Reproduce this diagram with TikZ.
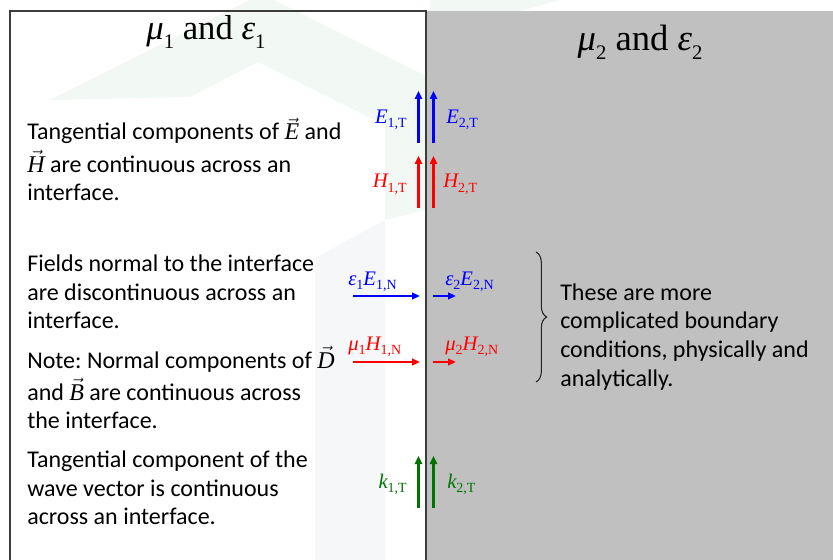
\documentclass[tikz,border=0pt]{standalone}
\usepackage{fontspec}
\setmainfont{Carlito}
\newfontfamily\tms{Liberation Serif}
\usetikzlibrary{arrows.meta,decorations.pathreplacing}
\definecolor{grayfill}{RGB}{192,192,192}
\definecolor{framec}{RGB}{60,60,60}
\definecolor{kgreen}{RGB}{0,115,0}
\definecolor{wmgreen}{RGB}{242,248,244}
\definecolor{wmgray}{RGB}{246,247,248}
\newcommand{\sbx}[1]{\raisebox{-3.5pt}{\fontsize{10.5}{11}\selectfont\upshape #1}}
\newcommand{\hsb}[1]{\raisebox{-6.5pt}{\fontsize{15.5}{16}\selectfont\upshape #1}}
\newcommand{\tvec}[1]{$\vec{\hbox{\tms\itshape #1}}$}
\frenchspacing
\begin{document}
\begin{tikzpicture}[x=0.75pt,y=-0.75pt,
  body/.style={anchor=base west,inner sep=0,font=\fontsize{18}{20}\selectfont},
  lab/.style={inner sep=0,font=\fontsize{15.5}{16}\selectfont\tms\itshape},
  head/.style={inner sep=0,anchor=base,font=\fontsize{26}{30}\selectfont\tms},
  va/.style={line width=2.3pt,-{Triangle[width=5.5pt,length=6pt]}},
  ha/.style={line width=2pt,-{Triangle[width=5pt,length=6pt]}}]
\useasboundingbox (0,0) rectangle (833,560);
\fill[white] (0,0) rectangle (833,560);
% watermark
\fill[wmgreen] (50,100) -- (262,-6) -- (426,76) -- (426,210) -- (385,220) -- (385,125) -- (258,62) -- (190,97) -- cycle;
\fill[wmgreen] (430,0) -- (560,0) -- (520,11) -- (430,11) -- cycle;
\fill[wmgray] (315,258) -- (385,220) -- (385,560) -- (315,560) -- cycle;
% regions
\fill[grayfill] (426,11) rectangle (833,560);
\draw[framec,line width=1.2pt] (10,560) -- (10,11) -- (426,11) -- (426,560);
% headings
\node[head] (h1) at (206,40) {{\itshape μ}\hsb{1} and {\itshape ε}\hsb{1}};
\node[head,font=\fontsize{27.5}{30}\selectfont\tms] (h2) at (640,51) {{\itshape μ}\hsb{2} and {\itshape ε}\hsb{2}};
% left texts
\node[body] (t1a) at (27,140) {Tangential components of \tvec{E} and};
\node[body] (t1b) at (27,172) {\tvec{H} are continuous across an};
\node[body] (t1c) at (27,200) {interface.};
\node[body] (t2a) at (27,272) {Fields normal to the interface};
\node[body] (t2b) at (27,300) {are discontinuous across an};
\node[body] (t2c) at (27,328) {interface.};
\node[body] (t3a) at (27,368) {Note: Normal components of \tvec{D}};
\node[body] (t3b) at (27,400) {and \tvec{B} are continuous across};
\node[body] (t3c) at (27,428) {the interface.};
\node[body] (t4a) at (27,467) {Tangential component of the};
\node[body] (t4b) at (27,496) {wave vector is continuous};
\node[body] (t4c) at (27,524) {across an interface.};
% right text
\node[body] (r1) at (560,300) {These are more};
\node[body] (r2) at (560,328) {complicated boundary};
\node[body] (r3) at (560,357) {conditions, physically and};
\node[body] (r4) at (560,386) {analytically.};
\coordinate (bt) at (536,252);
\coordinate (bb) at (536,382);
\draw[framec!60!black,line width=0.8pt,decorate,decoration={brace,amplitude=8pt}] (bt) -- (bb);
% tangential E and H
\coordinate (e1s) at (418.5,143); \coordinate (e1e) at (418.5,91);
\coordinate (e2s) at (433.5,143); \coordinate (e2e) at (433.5,91);
\coordinate (h1s) at (418.5,208); \coordinate (h1e) at (418.5,156);
\coordinate (h2s) at (433.5,208); \coordinate (h2e) at (433.5,156);
\draw[va,blue] (e1s) -- (e1e);
\draw[va,blue] (e2s) -- (e2e);
\draw[va,red] (h1s) -- (h1e);
\draw[va,red] (h2s) -- (h2e);
\node[lab,blue,anchor=base east] (le1) at (407,123) {E\sbx{1,T}};
\node[lab,blue,anchor=base west] (le2) at (446,123) {E\sbx{2,T}};
\node[lab,red,anchor=base east] (lh1) at (407,188) {H\sbx{1,T}};
\node[lab,red,anchor=base west] (lh2) at (443,188) {H\sbx{2,T}};
% normal components
\coordinate (n1s) at (353,296); \coordinate (n1e) at (420,296);
\coordinate (n2s) at (433,296); \coordinate (n2e) at (456,296);
\coordinate (m1s) at (353,362); \coordinate (m1e) at (420,362);
\coordinate (m2s) at (433,362); \coordinate (m2e) at (456,362);
\draw[ha,blue] (n1s) -- (n1e);
\draw[ha,blue] (n2s) -- (n2e);
\draw[ha,red] (m1s) -- (m1e);
\draw[ha,red] (m2s) -- (m2e);
\node[lab,blue,anchor=base west] (ln1) at (348,285) {ε\sbx{1}E\sbx{1,N}};
\node[lab,blue,anchor=base west] (ln2) at (445,285) {ε\sbx{2}E\sbx{2,N}};
\node[lab,red,anchor=base west] (lm1) at (348,350) {μ\sbx{1}H\sbx{1,N}};
\node[lab,red,anchor=base west] (lm2) at (445,350) {μ\sbx{2}H\sbx{2,N}};
% wave vector
\coordinate (k1s) at (418.5,508); \coordinate (k1e) at (418.5,456);
\coordinate (k2s) at (433.5,508); \coordinate (k2e) at (433.5,456);
\draw[va,kgreen] (k1s) -- (k1e);
\draw[va,kgreen] (k2s) -- (k2e);
\node[lab,kgreen,anchor=base east] (lk1) at (407,488) {k\sbx{1,T}};
\node[lab,kgreen,anchor=base west] (lk2) at (447,488) {k\sbx{2,T}};
\end{tikzpicture}
\end{document}
